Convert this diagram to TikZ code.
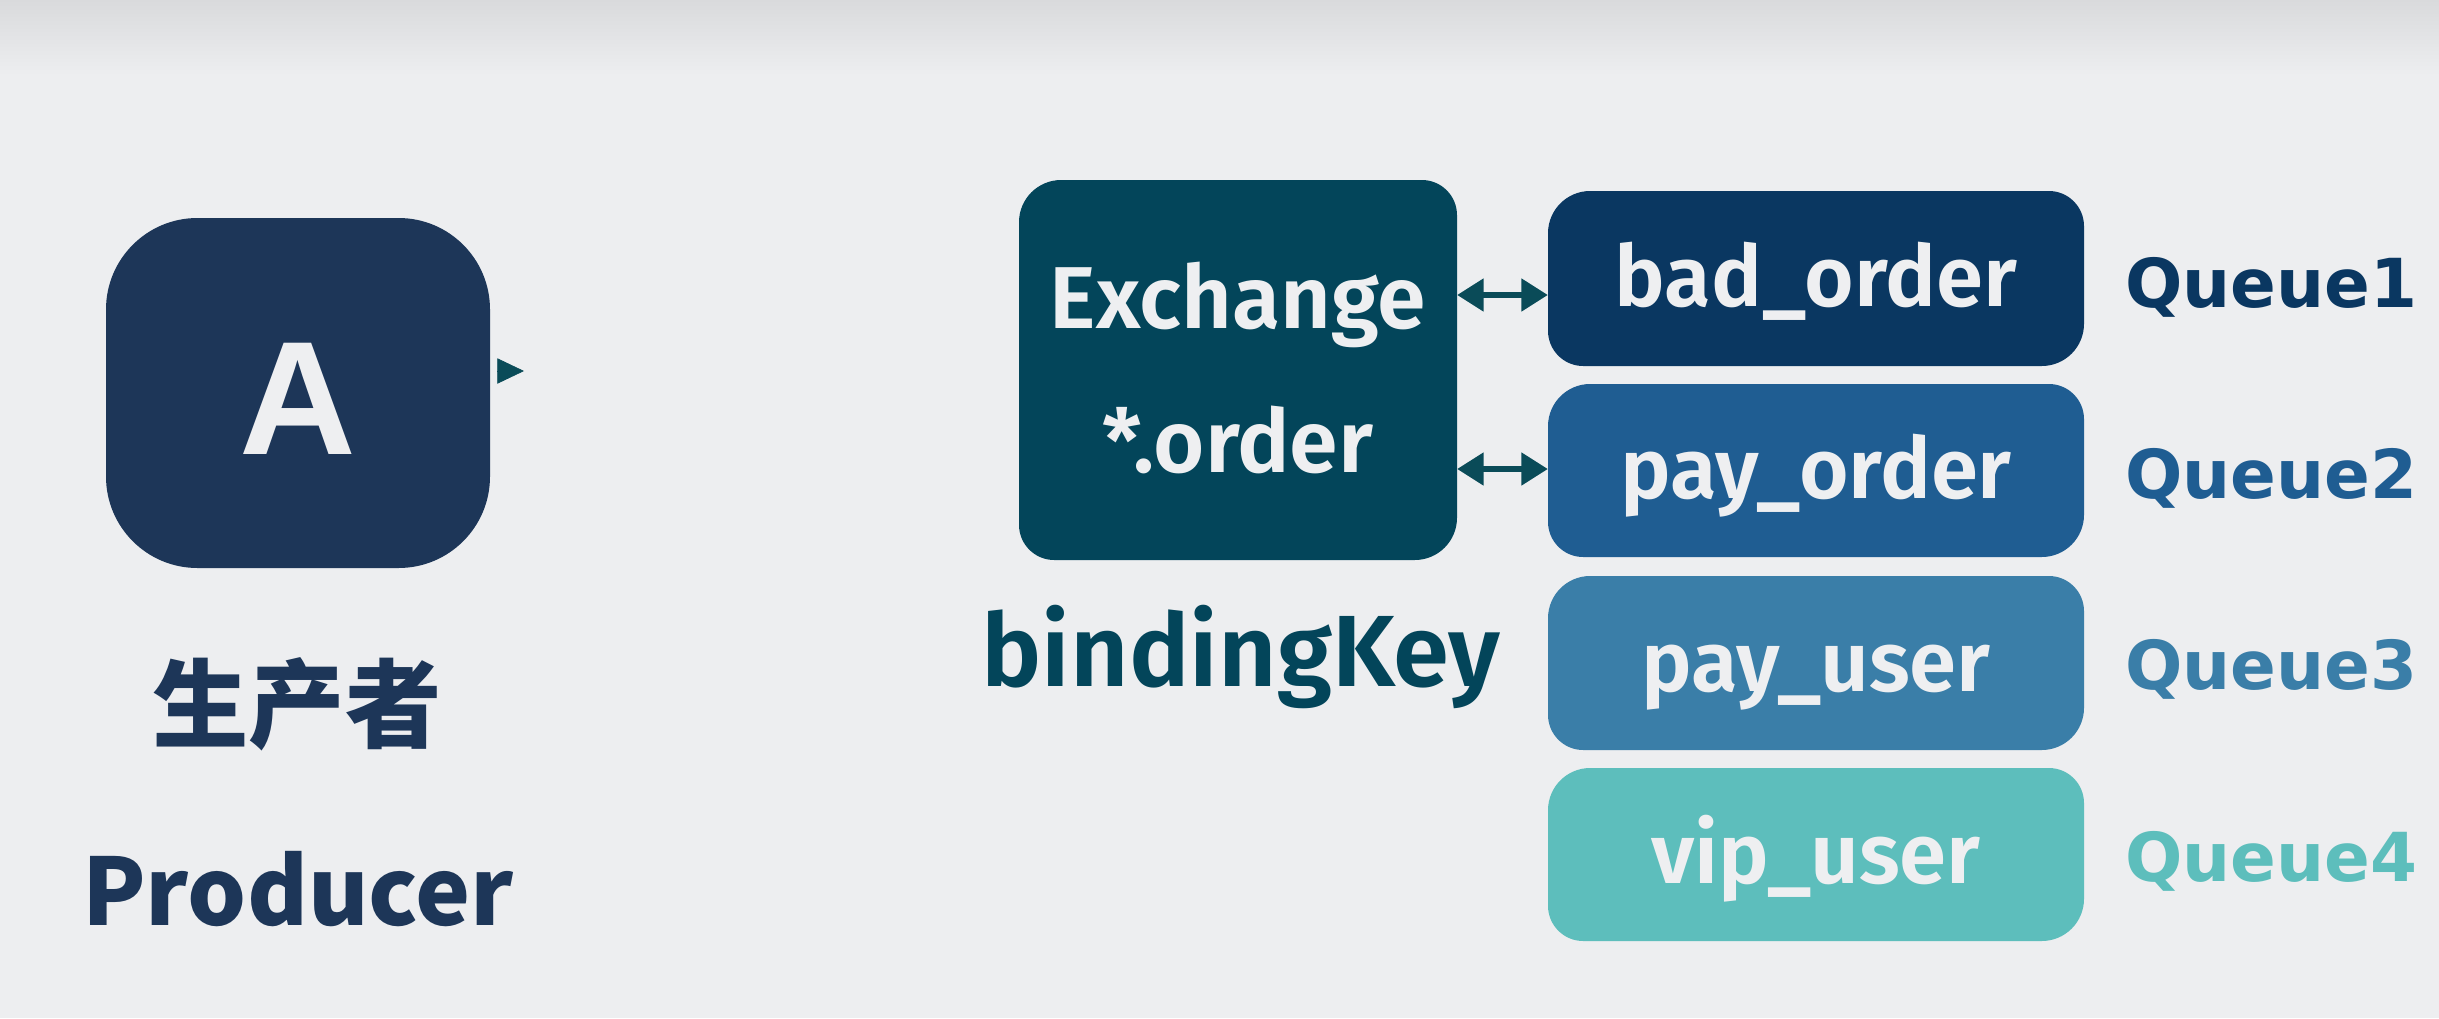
\documentclass[tikz,border=0pt]{standalone}
\usepackage{fontspec}
\newfontfamily\fira{Fira Sans SemiBold}
\newfontfamily\cjk{Noto Sans CJK SC}
\newfontfamily\dvs{DejaVu Sans}
\newfontfamily\lib{Liberation Sans}
\usetikzlibrary{arrows.meta}
\definecolor{bg}{HTML}{EDEEF0}
\definecolor{grad}{HTML}{D9DADC}
\definecolor{prodc}{HTML}{1D3658}
\definecolor{exc}{HTML}{03455A}
\definecolor{arrc}{HTML}{0A4B58}
\definecolor{qa}{HTML}{0A3761}
\definecolor{qb}{HTML}{1F5D92}
\definecolor{qc}{HTML}{3A7EA8}
\definecolor{qd}{HTML}{5DBEBC}
\definecolor{lt}{HTML}{EEEFF1}
\newcommand\cutbox[5]{%
  \fill[#5, rounded corners=12pt] (#1,{(#2+#4)/2}) -- (#1,#2)
    [rounded corners=10pt] -- (#3,#2)
    [rounded corners=12pt] -- (#3,#4)
    [rounded corners=10pt] -- (#1,#4) -- cycle;}
\tikzset{
  boxnode/.style={inner sep=0pt, outer sep=0pt, minimum width=#1},
  qtext/.style={anchor=base, text=lt, font=\fira\fontsize{24.2pt}{28pt}\selectfont},
  qlabel/.style={anchor=base west, font=\dvs\bfseries\fontsize{19.2pt}{23pt}\selectfont},
  dblarrow/.style={{Triangle[length=7.5pt,width=9pt]}-{Triangle[length=7.5pt,width=9pt]}, line width=1.6pt, draw=arrc, fill=arrc},
}
\begin{document}
\begin{tikzpicture}[x=0.01cm, y=-0.01cm]
\useasboundingbox (0,0) rectangle (2439,1018);
\fill[bg] (0,0) rectangle (2439,1018);
\shade[top color=grad, bottom color=bg] (0,0) rectangle (2439,75);

% producer
\fill[prodc, rounded corners=26pt] (106,218) rectangle (490,568);
\node[boxnode=3.84cm, minimum height=3.5cm] (prod) at (298,393) {};
\node[anchor=base, text=lt, font=\lib\bfseries\fontsize{46pt}{50pt}\selectfont] (atext) at (298,454) {A};
\coordinate (pa0) at (497,371);
\coordinate (pa1) at (524,371);
\draw[-{Triangle[length=7.6pt,width=7.2pt]}, draw=arrc, fill=arrc, line width=0.2pt] (pa0) -- (pa1);
\node[anchor=center, text=prodc, font=\cjk\bfseries\fontsize{27.4pt}{30pt}\selectfont] (zh) at (297,704) {生产者};
\node[anchor=base, text=prodc, font=\cjk\bfseries\fontsize{26.4pt}{30pt}\selectfont] (prodlbl) at (298,925) {Producer};

% exchange
\cutbox{1019}{180}{1457}{560}{exc}
\node[boxnode=4.38cm, minimum height=3.8cm] (ex) at (1238,370) {};
\node[anchor=base, text=lt, font=\fira\fontsize{25pt}{28pt}\selectfont] (ex1) at (1238,328) {Exchange};
\node[anchor=base, text=lt, font=\fira\fontsize{25pt}{28pt}\selectfont] (ex2) at (1238,472) {*.order};
\node[anchor=base, text=exc, font=\fira\fontsize{28.8pt}{32pt}\selectfont] (bk) at (1241,686) {bindingKey};

% queues
\cutbox{1548}{191}{2084}{366}{qa}
\cutbox{1548}{384}{2084}{557}{qb}
\cutbox{1548}{576}{2084}{750}{qc}
\cutbox{1548}{768}{2084}{941}{qd}
\node[boxnode=5.36cm, minimum height=1.75cm] (q1) at (1816,278) {};
\node[boxnode=5.36cm, minimum height=1.73cm] (q2) at (1816,470) {};
\node[boxnode=5.36cm, minimum height=1.74cm] (q3) at (1816,663) {};
\node[boxnode=5.36cm, minimum height=1.73cm] (q4) at (1816,855) {};
\node[qtext] (q1t) at (1816,306) {bad\_order};
\node[qtext] (q2t) at (1816,498) {pay\_order};
\node[qtext] (q3t) at (1816,691) {pay\_user};
\node[qtext] (q4t) at (1816,883) {vip\_user};
\node[qlabel, text=qa] (l1) at (2113,307) {Queue1};
\node[qlabel, text=qb] (l2) at (2113,498) {Queue2};
\node[qlabel, text=qc] (l3) at (2113,689) {Queue3};
\node[qlabel, text=qd] (l4) at (2113,881) {Queue4};

% connectors
\coordinate (a1) at (0,295);
\coordinate (a2) at (0,469);
\draw[dblarrow] (ex.east |- a1) -- (q1.west |- a1);
\draw[dblarrow] (ex.east |- a2) -- (q2.west |- a2);
\end{tikzpicture}
\end{document}
